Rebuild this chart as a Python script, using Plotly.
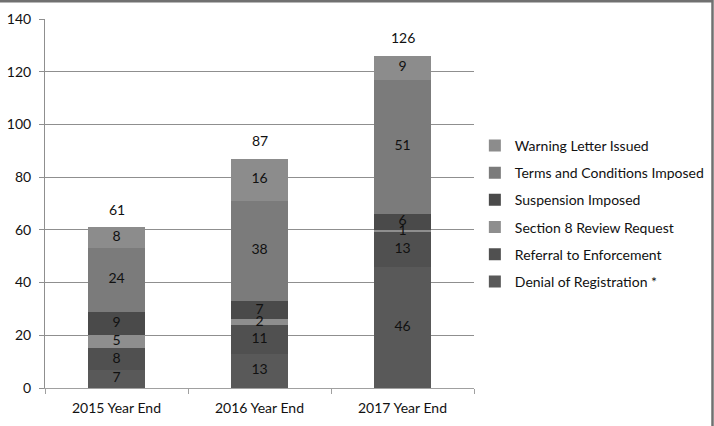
import plotly.graph_objects as go

categories = ["2015 Year End", "2016 Year End", "2017 Year End"]
series_names = [
    "Denial of Registration *",
    "Referral to Enforcement",
    "Section 8 Review Request",
    "Suspension Imposed",
    "Terms and Conditions Imposed",
    "Warning Letter Issued",
]
denial = [7, 13, 46]
referral = [8, 11, 13]
section8 = [5, 2, 1]
suspension = [9, 7, 6]
terms = [24, 38, 51]
warning = [8, 16, 9]
totals = [61, 87, 126]
y_ticks = [0, 20, 40, 60, 80, 100, 120, 140]

series_values = [denial, referral, section8, suspension, terms, warning]
colors = ["#595959", "#505050", "#8e8e8e", "#4a4a4a", "#7b7b7b", "#8c8c8c"]

FONT = "Lato"
L, R, T, B = 45, 240, 19, 38
PW, PH = 714 - L - R, 426 - T - B

fig = go.Figure()

n = len(series_names)
for i, (name, vals) in enumerate(zip(series_names, series_values)):
    fig.add_trace(go.Bar(
        x=categories, y=vals, name=name,
        marker=dict(color=colors[i], line=dict(width=0)),
        legendgroup=name, legendrank=1000 + (n - i) * 10, width=0.4,
        hoverinfo="skip",
    ))

# segment labels at midpoints
cum = [0, 0, 0]
for vals in series_values:
    mids = [c + v / 2 for c, v in zip(cum, vals)]
    fig.add_trace(go.Scatter(
        x=categories, y=mids, mode="text", text=[str(v) for v in vals],
        textposition="middle center",
        textfont=dict(family=FONT, size=14, color="#111111"),
        showlegend=False, hoverinfo="skip",
    ))
    cum = [c + v for c, v in zip(cum, vals)]

for cat, tot in zip(categories, totals):
    fig.add_annotation(x=cat, y=tot, text=str(tot), showarrow=False,
                       yanchor="middle", yshift=18,
                       font=dict(family=FONT, size=14, color="#111111"))

# outer frame (top and right edges) as a rectangle extending past the left/bottom edges
fig.add_shape(type="rect", xref="paper", yref="paper", layer="above",
              x0=(-L - 10) / PW, x1=(714 - 1.5 - L) / PW,
              y0=(-B - 10) / PH, y1=(PH + T - 1.2) / PH,
              line=dict(color="#707070", width=2.5), fillcolor="rgba(0,0,0,0)")

fig.update_layout(
    width=714, height=426,
    margin=dict(l=L, r=R, t=T, b=B, autoexpand=False),
    barmode="stack",
    plot_bgcolor="white", paper_bgcolor="white",
    font=dict(family=FONT, size=14, color="#111111"),
    showlegend=True,
    legend=dict(
        traceorder="grouped", x=1.002, y=0.472, xanchor="left", yanchor="middle",
        font=dict(family=FONT, size=14, color="#111111"),
        tracegroupgap=6, itemwidth=30, bgcolor="rgba(0,0,0,0)",
    ),
    xaxis=dict(
        type="category", showline=True, linecolor="#a0a0a0", linewidth=1,
        ticks="outside", tickson="boundaries", ticklen=5, tickcolor="#a0a0a0",
        showgrid=False, tickfont=dict(family=FONT, size=14, color="#111111"),
        range=[-0.5, 2.5], ticklabelstandoff=7, automargin=False,
    ),
    yaxis=dict(
        range=[0, 140], tickvals=y_ticks, showgrid=True, gridcolor="#8f8f8f",
        gridwidth=1, showline=True, linecolor="#8f8f8f", ticks="outside",
        ticklen=5, tickcolor="#8f8f8f", zeroline=False, automargin=False,
        tickfont=dict(family=FONT, size=14, color="#111111"), ticklabelstandoff=5,
    ),
)

fig.write_html("out.html", config={"displayModeBar": False},
               post_script="document.body.style.margin='0';document.body.style.overflow='hidden';")
